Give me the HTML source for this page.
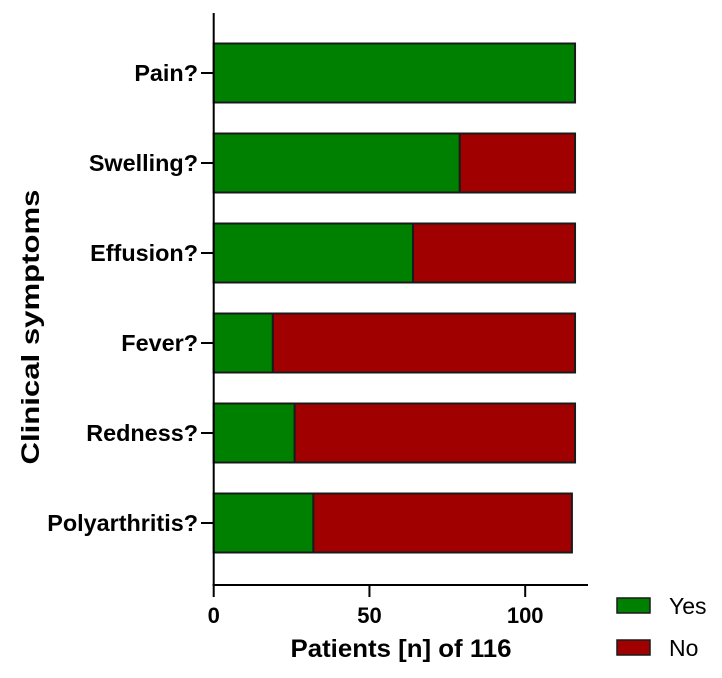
<!DOCTYPE html>
<html><head><meta charset="utf-8"><style>
body{margin:0;background:#fff;}
svg{display:block;font-family:"Liberation Sans",Arial,sans-serif;}
</style></head><body>
<svg width="722" height="678">
<g id="plot"></g>
</svg>
<script>
const categories=["Pain?","Swelling?","Effusion?","Fever?","Redness?","Polyarthritis?"];
const yesValues=[116,79,64,19,26,32];
const noValues=[0,37,52,97,90,83];
const xTicks=[0,50,100];
const x0=213.7,pxPer=3.115;
function xs(v){return x0+v*pxPer;}
function yc(i){return 73+i*90;}
const NS="http://www.w3.org/2000/svg";
const g=document.getElementById('plot');
function mk(t,a,txt){const e=document.createElementNS(NS,t);for(const k in a)e.setAttribute(k,a[k]);if(txt!==undefined)e.textContent=txt;g.appendChild(e);return e;}
categories.forEach((c,i)=>{
  const y=yc(i)-29.5,h=59;
  const r1=mk('rect',{x:xs(0),y:y,width:xs(yesValues[i])-xs(0),height:h,fill:'#008000',stroke:'#1a1a1a','stroke-width':2});
  
  
  if(noValues[i]>0){
    const r2=mk('rect',{x:xs(yesValues[i]),y:y,width:xs(yesValues[i]+noValues[i])-xs(yesValues[i]),height:h,fill:'#a00000',stroke:'#1a1a1a','stroke-width':2});
    
    
  }
  const tk=mk('line',{x1:201,x2:x0,y1:yc(i),y2:yc(i),stroke:'#000','stroke-width':2});
  
  
  const lb=mk('text',{x:198,y:yc(i)+8,'text-anchor':'end','font-size':23.4,'font-weight':'bold'},c);
  
  
});
const ya=mk('line',{x1:x0,x2:x0,y1:13,y2:586,stroke:'#000','stroke-width':2});


const xa=mk('line',{x1:x0-1,x2:588,y1:585,y2:585,stroke:'#000','stroke-width':2});


xTicks.forEach(t=>{
  const l=mk('line',{x1:xs(t),x2:xs(t),y1:585,y2:597,stroke:'#000','stroke-width':2});
  
  
  const tx=mk('text',{x:xs(t),y:623,'text-anchor':'middle','font-size':22,'font-weight':'bold'},String(t));
  
  
});
const xt=mk('text',{x:401,y:657,'text-anchor':'middle','font-size':25,'font-weight':'bold',textLength:221,lengthAdjust:'spacingAndGlyphs'},'Patients [n] of 116');


const yt=mk('text',{x:0,y:0,'text-anchor':'middle','font-size':25,'font-weight':'bold',textLength:275,lengthAdjust:'spacingAndGlyphs',transform:'translate(39,327) rotate(-90)'},'Clinical symptoms');


[['Yes','#008000',598],['No','#a00000',640]].forEach(([n,c,y])=>{
  const r=mk('rect',{x:617,y:y,width:33,height:15,fill:c,stroke:'#1a1a1a','stroke-width':1.5});
  
  
  const t=mk('text',{x:669,y:y+16,'font-size':23},n);
  
  
});
</script>
</body></html>
